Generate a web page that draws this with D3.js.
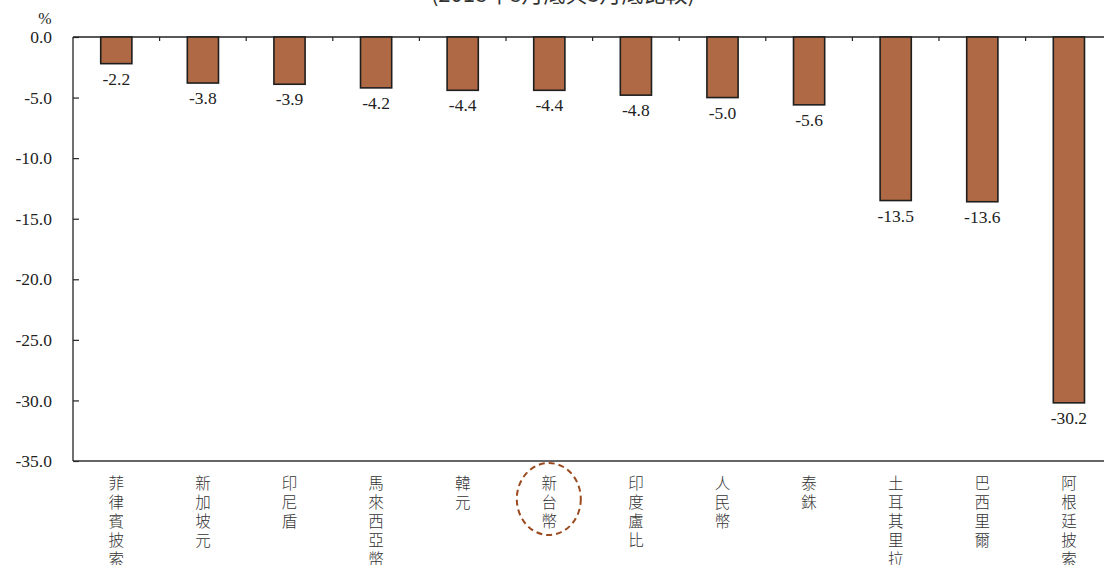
<!DOCTYPE html>
<html>
<head>
<meta charset="utf-8">
<script src="https://cdn.jsdelivr.net/npm/d3@7"></script>
<style>
  html, body { margin: 0; padding: 0; background: #fff; }
  svg { display: block; }
</style>
</head>
<body>
<svg id="chart" width="1104" height="565"></svg>
<script>
// Currency depreciation against USD (%)
const currencies = ["菲律賓披索", "新加坡元", "印尼盾", "馬來西亞幣", "韓元", "新台幣",
                    "印度盧比", "人民幣", "泰銖", "土耳其里拉", "巴西里爾", "阿根廷披索"];
const changes = [-2.2, -3.8, -3.9, -4.2, -4.4, -4.4, -4.8, -5.0, -5.6, -13.5, -13.6, -30.2];
const yTicks = [0, -5, -10, -15, -20, -25, -30, -35];
const subtitle = "(2018年8月底與3月底比較)";
const highlight = "新台幣";

const svg = d3.select("#chart");
const serif = "'Liberation Serif', 'Times New Roman', serif";
const cjk = "'Noto Sans CJK TC', 'Noto Sans CJK SC', sans-serif";

const plotLeft = 73, plotTop = 37, plotBottom = 461;
const step = 86.6;
const x = d3.scaleBand().domain(currencies).range([plotLeft, plotLeft + step * currencies.length]).paddingInner(0.64).paddingOuter(0.32);
const y = d3.scaleLinear().domain([0, -35]).range([plotTop, plotBottom]);

// subtitle, clipped by the top edge
svg.append("text")
  .attr("x", 563).attr("y", 2)
  .attr("text-anchor", "middle")
  .attr("font-family", cjk).attr("font-size", 22).attr("fill", "#333")
  .text(subtitle);

// unit
svg.append("text")
  .attr("x", 45).attr("y", 24)
  .attr("text-anchor", "middle")
  .attr("font-family", serif).attr("font-size", 16).attr("fill", "#222")
  .text("%");

// y axis with inward ticks
const yAxis = d3.axisLeft(y).tickValues(yTicks).tickSize(-6).tickPadding(21)
  .tickFormat(d => d3.format(".1f")(d).replace("−", "-"));
const gy = svg.append("g").attr("transform", `translate(${plotLeft},0)`).call(yAxis);
gy.select(".domain").remove();
gy.selectAll(".tick line").attr("stroke", "#222").attr("stroke-width", 1.2);
gy.selectAll(".tick text")
  .attr("font-family", serif).attr("font-size", 17.5).attr("fill", "#222")
  .text(d => d === 0 ? "0.0" : d3.format(".1f")(d).replace("−", "-"));

svg.append("line").attr("x1", plotLeft).attr("x2", plotLeft).attr("y1", y(0)).attr("y2", y(-35))
  .attr("stroke", "#222").attr("stroke-width", 1.3);
// top (zero) and bottom frame lines
svg.append("line").attr("x1", plotLeft).attr("x2", 1104).attr("y1", y(0)).attr("y2", y(0))
  .attr("stroke", "#222").attr("stroke-width", 1.5);
svg.append("line").attr("x1", plotLeft).attr("x2", 1104).attr("y1", y(-35)).attr("y2", y(-35))
  .attr("stroke", "#333").attr("stroke-width", 1.3);

// category boundary ticks on the zero line
const gap = x.step() * x.paddingInner();
svg.append("g").selectAll("line").data(currencies.slice(1)).join("line")
  .attr("x1", d => x(d) - gap / 2).attr("x2", d => x(d) - gap / 2)
  .attr("y1", y(0)).attr("y2", y(0) + 4)
  .attr("stroke", "#222").attr("stroke-width", 1.2);

// bars
svg.append("g").selectAll("rect").data(currencies).join("rect")
  .attr("x", d => x(d))
  .attr("y", y(0))
  .attr("width", x.bandwidth())
  .attr("height", (d, i) => y(changes[i]) - y(0))
  .attr("fill", "#AF6A45")
  .attr("stroke", "#1e1e1e")
  .attr("stroke-width", 1.6);

// value labels
svg.append("g").selectAll("text").data(currencies).join("text")
  .attr("x", d => x(d) + x.bandwidth() / 2)
  .attr("y", (d, i) => y(changes[i]) + 21)
  .attr("text-anchor", "middle")
  .attr("font-family", serif).attr("font-size", 17.5).attr("fill", "#222")
  .text((d, i) => changes[i].toFixed(1));

// vertical category labels (top-to-bottom writing)
svg.append("g").selectAll("text").data(currencies).join("text")
  .attr("x", d => x(d) + x.bandwidth() / 2)
  .attr("y", 475)
  .style("writing-mode", "vertical-rl")
  .attr("letter-spacing", 3.5)
  .attr("font-family", cjk).attr("font-size", 15.5).attr("font-weight", 300).attr("fill", "#333")
  .text(d => d);

// dashed ellipse around the highlighted currency
svg.append("ellipse")
  .attr("cx", x(highlight) + x.bandwidth() / 2 - 0.5)
  .attr("cy", 499)
  .attr("rx", 32).attr("ry", 36)
  .attr("fill", "none")
  .attr("stroke", "#9A4A1E").attr("stroke-width", 2)
  .attr("stroke-dasharray", "6,4");
</script>
</body>
</html>
